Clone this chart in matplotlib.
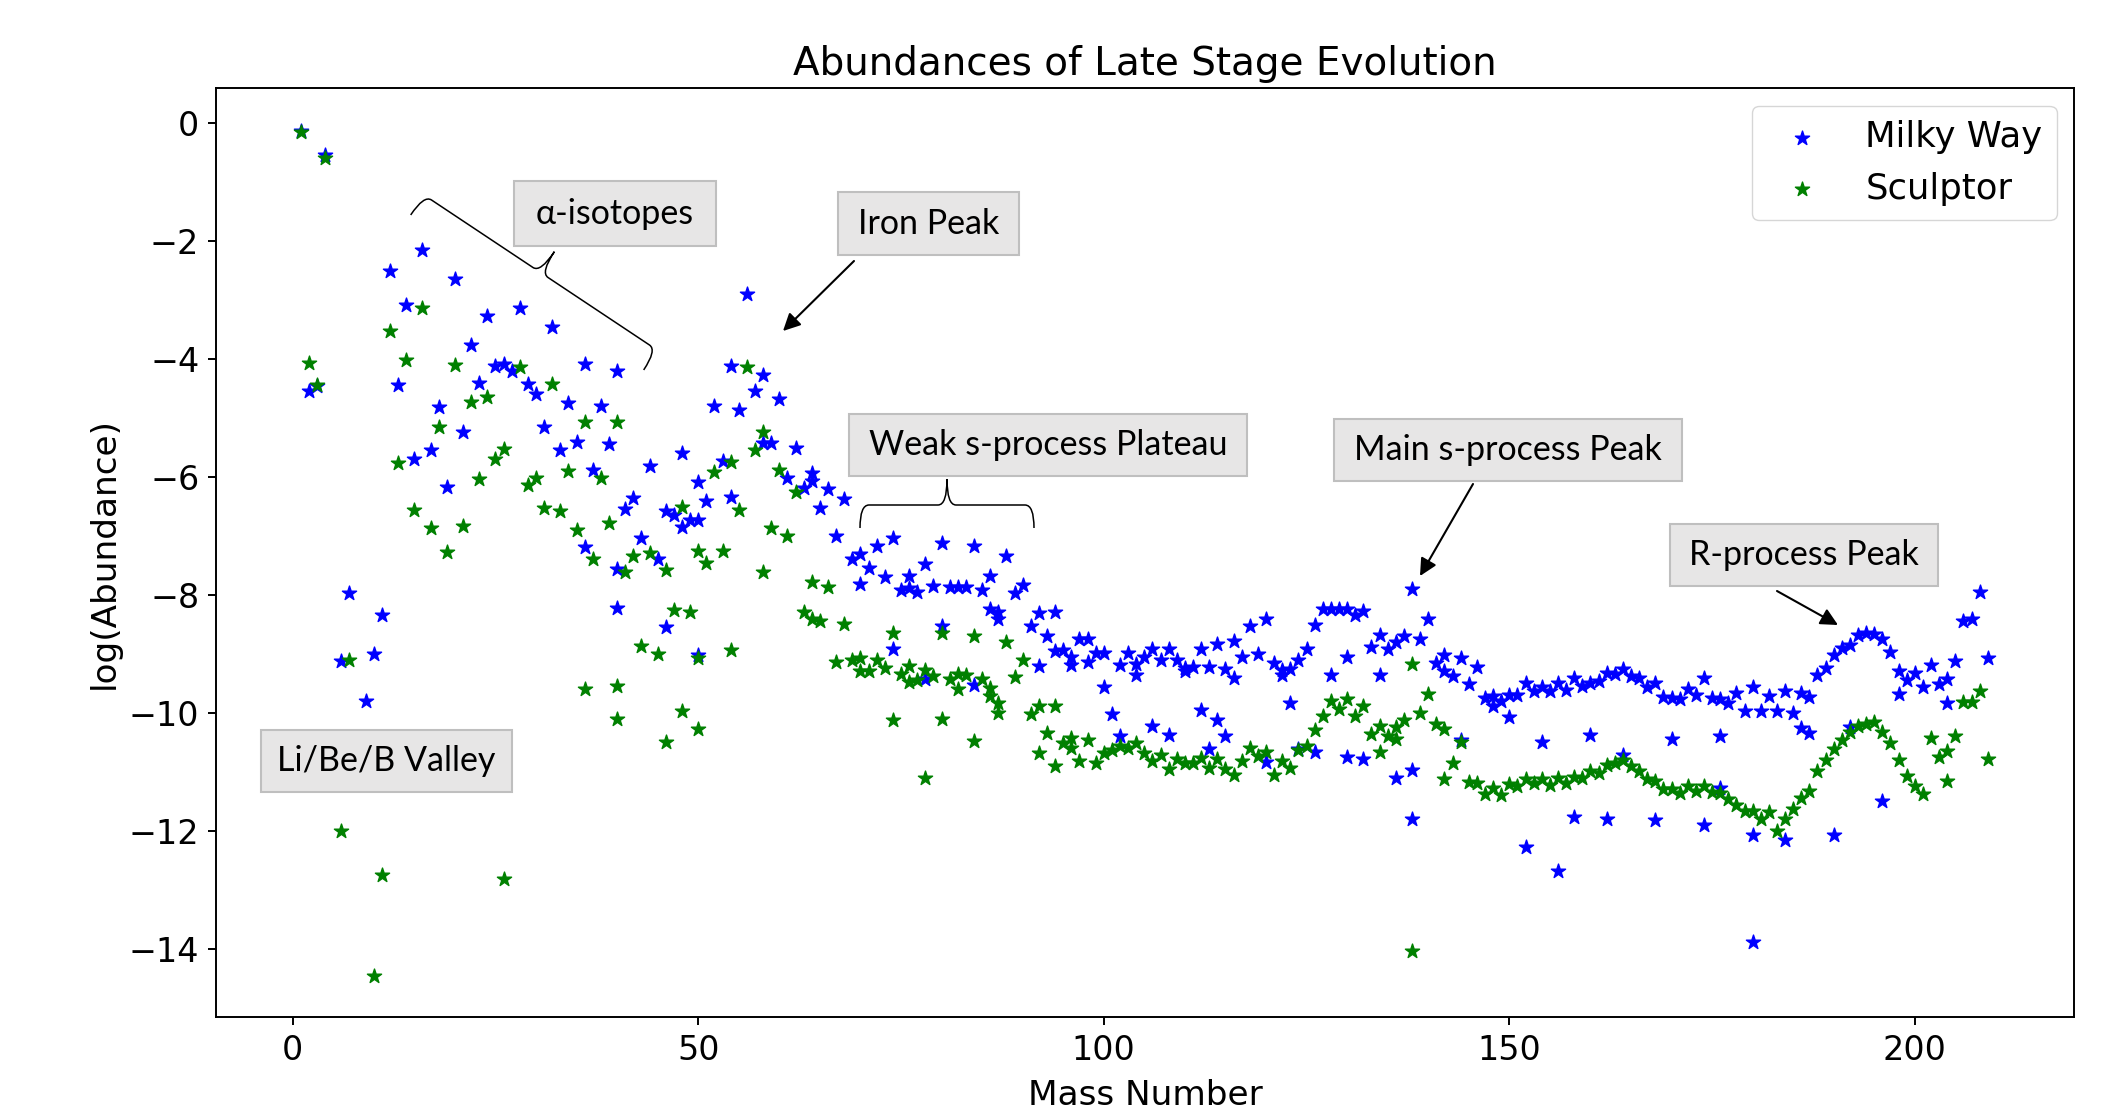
import numpy as np
import matplotlib
matplotlib.use("Agg")
import matplotlib.pyplot as plt
from matplotlib.patches import Rectangle, FancyArrowPatch, PathPatch
from matplotlib.path import Path

# (mass number, log abundance)
mw_light = [(1, -0.14), (2, -4.55), (3, -4.45), (4, -0.55), (6, -9.12), (7, -7.97), (9, -9.80),
            (10, -8.99), (11, -8.34), (12, -2.51), (13, -4.44), (14, -3.08), (15, -5.69), (16, -2.16),
            (17, -5.54), (18, -4.81), (19, -6.17), (20, -2.65), (21, -5.23), (22, -3.76), (23, -4.40),
            (24, -3.27), (25, -4.12), (26, -4.08), (27, -4.20), (28, -3.14), (29, -4.42), (30, -4.59),
            (31, -5.15), (32, -3.45), (33, -5.54), (34, -4.75), (35, -5.40), (36, -4.09), (36, -7.19),
            (37, -5.88), (38, -4.80), (39, -5.44), (40, -4.21), (40, -7.56), (40, -8.22), (41, -6.54),
            (42, -6.36), (43, -7.03), (44, -5.82), (45, -7.39), (46, -6.58), (46, -8.54), (47, -6.64),
            (48, -5.60), (48, -6.85), (49, -6.72), (50, -6.09), (50, -6.73), (50, -9.01), (51, -6.41),
            (52, -4.80), (53, -5.73), (54, -4.11), (54, -6.34), (55, -4.86), (56, -2.90), (57, -4.54),
            (58, -4.27), (58, -5.42), (59, -5.42), (60, -4.67), (61, -6.02), (62, -5.51), (63, -6.19),
            (64, -5.93), (64, -6.07), (65, -6.52), (66, -6.20), (67, -7.00), (68, -6.37), (69, -7.39),
            (70, -7.30), (70, -7.81)]

mw_mid = [(71, -7.54), (72, -7.16), (73, -7.70), (74, -7.03), (74, -8.91), (75, -7.91), (76, -7.68),
          (76, -7.88), (77, -7.95), (78, -7.47), (78, -9.42), (79, -7.85), (80, -7.12), (80, -8.53),
          (81, -7.86), (82, -7.86), (83, -7.86), (84, -7.17), (84, -9.52), (85, -7.92), (86, -7.67),
          (86, -8.23), (87, -8.29), (87, -8.41), (88, -7.33), (89, -7.96), (90, -7.82), (91, -8.52),
          (92, -8.31), (92, -9.20), (93, -8.70), (94, -8.29), (94, -8.95), (95, -8.93), (96, -9.04),
          (96, -9.18), (97, -8.74), (98, -8.75), (98, -9.14), (99, -8.98), (100, -8.98), (100, -9.55),
          (101, -10.01), (102, -9.18), (102, -10.38), (103, -8.98), (104, -9.16), (104, -9.35),
          (105, -9.04), (106, -8.92), (106, -10.22), (107, -9.09), (108, -8.92), (108, -10.36),
          (109, -9.09), (110, -9.23), (110, -9.29), (111, -9.21), (112, -8.91), (112, -9.95),
          (113, -9.21), (113, -10.60), (114, -8.82), (114, -10.12), (115, -9.25), (115, -10.38),
          (116, -8.78), (116, -9.40), (117, -9.04), (118, -8.53), (119, -9.00), (120, -8.40),
          (120, -10.83), (121, -9.15), (122, -9.26), (122, -9.36), (123, -9.25), (123, -9.83),
          (124, -9.09), (124, -10.60), (125, -8.91), (126, -8.50), (126, -10.66), (127, -8.23),
          (128, -8.23), (128, -9.35), (129, -8.23), (130, -8.23), (130, -9.05), (130, -10.74)]

mw_heavy = [(131, -8.34), (132, -8.27), (132, -10.77), (133, -8.87), (134, -8.67), (134, -9.36),
            (135, -8.92), (136, -8.80), (136, -11.10), (137, -8.70), (138, -7.90), (138, -10.96),
            (138, -11.79), (139, -8.75), (140, -8.40), (141, -9.15), (142, -9.01), (142, -9.29),
            (143, -9.37), (144, -9.06), (144, -10.45), (145, -9.50), (146, -9.21), (147, -9.74),
            (148, -9.70), (148, -9.87), (149, -9.80), (150, -9.69), (150, -10.06), (151, -9.69),
            (152, -9.49), (152, -12.26), (153, -9.63), (154, -9.55), (154, -10.48), (155, -9.63),
            (156, -9.49), (156, -12.68), (157, -9.60), (158, -9.40), (158, -11.76), (159, -9.54),
            (160, -9.49), (160, -10.36), (161, -9.46), (162, -9.31), (162, -11.79), (163, -9.33),
            (164, -9.25), (164, -10.70), (165, -9.37), (166, -9.40), (167, -9.55), (168, -9.48),
            (168, -11.80), (169, -9.72), (170, -9.74), (170, -10.44), (171, -9.76), (172, -9.59),
            (173, -9.69), (174, -9.40), (174, -11.90), (175, -9.74), (176, -9.76), (176, -10.38),
            (176, -11.26), (177, -9.83), (178, -9.66), (179, -9.97), (180, -9.55), (180, -12.06),
            (180, -13.88), (181, -9.97), (182, -9.71), (183, -9.97), (184, -9.63), (184, -12.15),
            (185, -10.00), (186, -9.66), (186, -10.25), (187, -9.72), (187, -10.33), (188, -9.35),
            (189, -9.23), (190, -9.01), (190, -12.06), (191, -8.90), (192, -8.84), (192, -10.23),
            (193, -8.67), (194, -8.64), (195, -8.65), (196, -8.75), (196, -11.49), (197, -8.97),
            (198, -9.29), (198, -9.67), (199, -9.44), (200, -9.31), (201, -9.56), (202, -9.19),
            (203, -9.50), (204, -9.42), (204, -9.83), (205, -9.12), (206, -8.44), (207, -8.40),
            (208, -7.95), (209, -9.06)]

sc_light = [(1, -0.15), (2, -4.06), (3, -4.44), (4, -0.60), (6, -12.00), (7, -9.10), (10, -14.45),
            (11, -12.74), (12, -3.52), (13, -5.76), (14, -4.02), (15, -6.55), (16, -3.13), (17, -6.86),
            (18, -5.15), (19, -7.27), (20, -4.10), (21, -6.83), (22, -4.72), (23, -6.04), (24, -4.64),
            (25, -5.69), (26, -5.53), (26, -12.81), (28, -4.14), (29, -6.13), (30, -6.02), (31, -6.52),
            (32, -4.42), (33, -6.57), (34, -5.90), (35, -6.89), (36, -5.07), (36, -9.59), (37, -7.39),
            (38, -6.02), (39, -6.77), (40, -5.07), (40, -9.54), (40, -10.10), (41, -7.60), (42, -7.33),
            (43, -8.86), (44, -7.29), (45, -8.99), (46, -7.57), (46, -10.48), (47, -8.25), (48, -6.51),
            (48, -9.97), (49, -8.29), (50, -7.25), (50, -9.06), (50, -10.27), (51, -7.46), (52, -5.92),
            (53, -7.25), (54, -5.75), (54, -8.93), (55, -6.56), (56, -4.14), (57, -5.54), (58, -5.24),
            (58, -7.60), (59, -6.86), (60, -5.88), (61, -7.00), (62, -6.26), (63, -8.29), (64, -7.78),
            (64, -8.41), (65, -8.44), (66, -7.86), (67, -9.13), (68, -8.48), (69, -9.10), (70, -9.07),
            (70, -9.29)]

sc_mid = [(71, -9.29), (72, -9.09), (73, -9.23), (74, -8.64), (74, -10.11), (75, -9.33), (76, -9.20),
          (76, -9.47), (77, -9.43), (78, -9.27), (78, -11.10), (79, -9.37), (80, -8.64), (80, -10.10),
          (81, -9.42), (82, -9.33), (82, -9.59), (83, -9.36), (84, -8.69), (84, -10.47), (85, -9.42),
          (86, -9.57), (86, -9.71), (87, -9.82), (87, -9.99), (88, -8.80), (89, -9.39), (90, -9.09),
          (91, -10.02), (92, -9.87), (92, -10.68), (93, -10.33), (94, -9.87), (94, -10.90), (95, -10.50),
          (96, -10.42), (96, -10.59), (97, -10.81), (98, -10.46), (99, -10.84), (100, -10.67),
          (101, -10.62), (102, -10.55), (103, -10.59), (104, -10.51), (105, -10.67), (106, -10.81),
          (107, -10.70), (108, -10.95), (109, -10.78), (110, -10.84), (111, -10.84), (112, -10.76),
          (113, -10.93), (114, -10.78), (115, -10.95), (116, -11.04), (117, -10.81), (118, -10.59),
          (119, -10.73), (120, -10.66), (121, -11.05), (122, -10.81), (123, -10.93), (124, -10.62),
          (125, -10.56), (126, -10.28), (127, -10.04), (128, -9.80), (129, -9.93), (130, -9.76)]

sc_heavy = [(131, -10.04), (132, -9.87), (133, -10.35), (134, -10.21), (134, -10.65), (135, -10.38),
            (136, -10.23), (136, -10.44), (137, -10.12), (138, -9.16), (138, -14.03), (139, -10.00),
            (140, -9.67), (141, -10.19), (142, -10.27), (142, -11.11), (143, -10.84), (144, -10.49),
            (145, -11.16), (146, -11.18), (147, -11.37), (148, -11.27), (149, -11.38), (150, -11.19),
            (151, -11.24), (152, -11.12), (153, -11.18), (154, -11.11), (155, -11.22), (156, -11.09),
            (157, -11.18), (158, -11.08), (159, -11.09), (160, -10.98), (161, -11.01), (162, -10.87),
            (163, -10.85), (164, -10.80), (165, -10.90), (166, -10.98), (167, -11.12), (168, -11.15),
            (169, -11.29), (170, -11.28), (171, -11.35), (172, -11.23), (173, -11.32), (174, -11.23),
            (175, -11.34), (176, -11.35), (177, -11.45), (178, -11.55), (179, -11.66), (180, -11.66),
            (181, -11.79), (182, -11.68), (183, -12.00), (184, -11.79), (185, -11.62), (186, -11.44),
            (187, -11.31), (188, -10.97), (189, -10.80), (190, -10.60), (191, -10.45), (192, -10.32),
            (193, -10.21), (194, -10.18), (195, -10.15), (196, -10.31), (197, -10.50), (198, -10.80),
            (199, -11.06), (200, -11.24), (201, -11.36), (202, -10.42), (203, -10.74), (204, -10.64),
            (205, -10.38), (204, -11.14), (206, -9.81), (207, -9.81), (208, -9.63), (209, -10.77)]

# annotation boxes (label, left, top, right, bottom) in image pixels
labels = [("\u03b1-isotopes", 514, 181, 716, 246),
          ("Iron Peak", 838, 192, 1019, 255),
          ("Weak s-process Plateau", 849, 414, 1247, 476),
          ("Main s-process Peak", 1334, 419, 1682, 481),
          ("R-process Peak", 1670, 524, 1938, 586),
          ("Li/Be/B Valley", 261, 730, 512, 792)]

W, H = 2119, 1120


def fxy(x, y):
    # image pixel -> figure fraction
    return x / W, 1 - y / H


def brace_patch(fig, p0, p1, n, hook, tip, r=9):
    p0, p1, n = np.array(p0, float), np.array(p1, float), np.array(n, float)
    u = (p1 - p0) / np.linalg.norm(p1 - p0)
    n = n / np.linalg.norm(n)
    m = (p0 + p1) / 2
    pts = [p0 - hook * n, p0, p0 + r * u, m - r * u, m, m + tip * n,
           m, m + r * u, p1 - r * u, p1, p1 - hook * n]
    codes = [Path.MOVETO, Path.CURVE3, Path.CURVE3, Path.LINETO, Path.CURVE3, Path.CURVE3,
             Path.CURVE3, Path.CURVE3, Path.LINETO, Path.CURVE3, Path.CURVE3]
    verts = [fxy(*p) for p in pts]
    return PathPatch(Path(verts, codes), fill=False, lw=1.1, edgecolor="black",
                     transform=fig.transFigure, zorder=5)


mw = np.array(mw_light + mw_mid + mw_heavy)
sc = np.array(sc_light + sc_mid + sc_heavy)

fig = plt.figure(figsize=(W / 100, H / 100), dpi=100)
ax = fig.add_axes([0.1019, 0.0917, 0.8770, 0.8297])

ax.scatter(mw[:, 0], mw[:, 1], marker="*", color="blue", s=115, label="Milky Way")
ax.scatter(sc[:, 0], sc[:, 1], marker="*", color="green", s=115, label="Sculptor")

ax.set_xlim(-9.46, 219.66)
ax.set_ylim(-15.15, 0.59)
ax.set_xticks([0, 50, 100, 150, 200])
ax.set_yticks(np.arange(-14, 1, 2))
ax.tick_params(labelsize=24, length=6, width=1.4, pad=6)
for sp in ax.spines.values():
    sp.set_linewidth(1.4)

ax.set_title("Abundances of Late Stage Evolution", fontsize=28, pad=9.5)
ax.set_xlabel("Mass Number", fontsize=24.7, labelpad=9)
ax.set_ylabel("log(Abundance)", fontsize=24.7, labelpad=6)
ax.legend(loc="upper right", fontsize=25.5)

# overlay: grey label boxes
for txt, x0, y0, x1, y1 in labels:
    bx, by = fxy(x0, y1)
    fig.patches.append(Rectangle((bx, by), (x1 - x0) / W, (y1 - y0) / H, transform=fig.transFigure,
                                 fc="#e7e6e6", ec="#bfbfbf", lw=1.5, zorder=5))
    cx, cy = fxy((x0 + x1) / 2, (y0 + y1) / 2)
    fig.text(cx, cy, txt, ha="center", va="center", fontsize=24.5,
             family=["Lato", "DejaVu Sans"], zorder=6)

# braces
fig.patches.append(brace_patch(fig, (424, 195), (657, 350), (0.555, -0.832), hook=24, tip=25))
fig.patches.append(brace_patch(fig, (860, 505), (1034, 505), (0, -1), hook=23, tip=26))

# arrows
for a, b in [((854, 261), (783, 331)), ((1473, 484), (1420, 576)), ((1777, 591), (1838, 625))]:
    fig.patches.append(FancyArrowPatch(fxy(*a), fxy(*b), transform=fig.transFigure,
                                       arrowstyle="-|>", mutation_scale=26, lw=1.5,
                                       color="black", shrinkA=0, shrinkB=0))

plt.savefig("out.png", dpi=100)
